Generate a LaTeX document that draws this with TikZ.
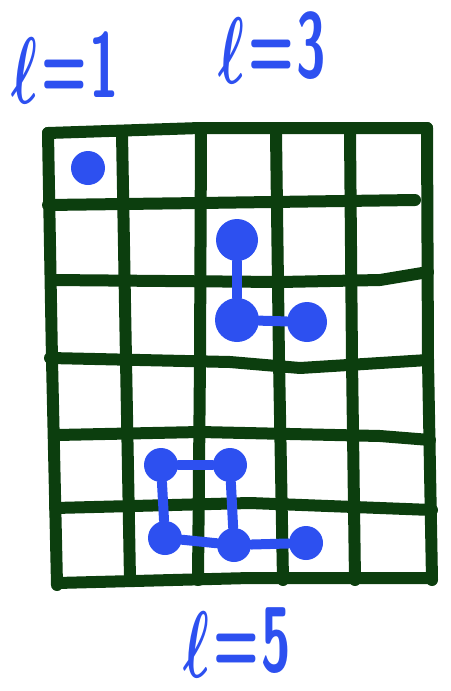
\documentclass[tikz,border=0pt]{standalone}
\usepackage{graphicx}
\definecolor{gridgreen}{RGB}{12,62,14}
\definecolor{penblue}{RGB}{45,80,240}
\newcommand{\elllab}[1]{\scalebox{0.58}[1]{\raisebox{-3pt}{\scalebox{1.9}{\boldmath$\ell$}}\kern3pt=\kern2pt#1}}
\tikzset{
  gridline/.style={line width=6pt, draw=gridgreen, line cap=round, line join=round},
  dot/.style={circle, fill=penblue, inner sep=0pt, minimum size=#1},
  dot/.default=17pt,
  bond/.style={line width=5pt, draw=penblue, line cap=round},
  lab/.style={text=penblue, font=\fontsize{46}{50}\selectfont\sffamily\bfseries, inner sep=0pt}
}
\begin{document}
\begin{tikzpicture}[x=0.5pt,y=-0.5pt]
\useasboundingbox (0,0) rectangle (450,691);
% grid: vertical lines
\draw[gridline] (48,133) -- (52,360) -- (57,585);
\draw[gridline] (122,133) -- (126,360) -- (130,580);
\draw[gridline] (201,133) -- (200,360) -- (198,580);
\draw[gridline] (276,133) -- (279,360) -- (283,580);
\draw[gridline] (350,133) -- (352,360) -- (355,580);
\draw[gridline] (427,128) -- (428,360) -- (432,580);
% grid: horizontal lines
\draw[gridline] (48,133) -- (200,128) -- (427,128);
\draw[gridline] (48,205) -- (200,203) -- (415,200);
\draw[gridline] (52,280) -- (280,282) -- (380,280) -- (428,272);
\draw[gridline] (50,358) -- (230,362) -- (300,368) -- (428,360);
\draw[gridline] (57,435) -- (200,432) -- (380,436) -- (430,440);
\draw[gridline] (55,508) -- (250,503) -- (432,510);
\draw[gridline] (57,583) -- (250,578) -- (432,578);
% labels
\node[lab] (l1) at (65,68) {\elllab{1}};
\node[lab] (l3) at (272,48) {\elllab{3}};
\node[lab] (l5) at (237,643) {\elllab{5}};
% l=1
\node[dot] (a1) at (88,168) {};
% l=3
\node[dot=21pt] (b1) at (237,240) {};
\node[dot=22pt] (b2) at (237,320) {};
\node[dot=20pt] (b3) at (307,322) {};
\draw[bond] (b1) -- (b2);
\draw[bond] (b2) -- (b3);
% l=5
\node[dot] (c1) at (161,465) {};
\node[dot] (c2) at (230,465) {};
\node[dot] (c3) at (165,538) {};
\node[dot] (c4) at (234,545) {};
\node[dot] (c5) at (306,543) {};
\draw[bond] (c1) -- (c2);
\draw[bond] (c1) -- (c3);
\draw[bond] (c2) -- (c4);
\draw[bond] (c3) -- (c4);
\draw[bond] (c4) -- (c5);
\end{tikzpicture}
\end{document}
